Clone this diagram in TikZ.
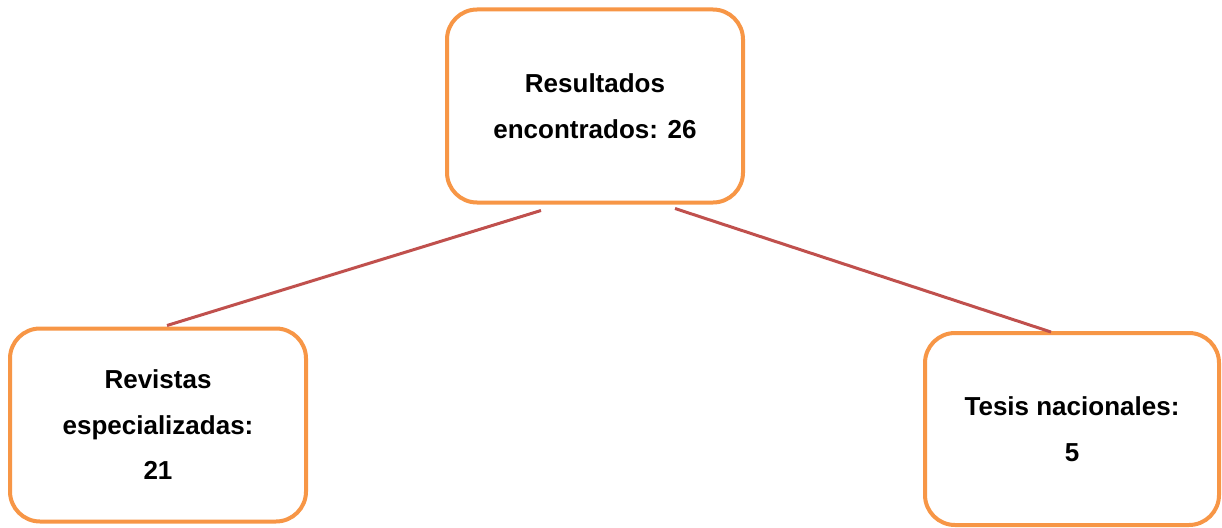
\documentclass[tikz,border=0pt]{standalone}
\usepackage{fontspec}
\setmainfont{Liberation Sans}
\definecolor{boxorange}{HTML}{F79646}
\definecolor{linered}{HTML}{C0504D}
\begin{document}
\begin{tikzpicture}[x=1pt,y=-1pt,
  box/.style={draw=boxorange, line width=4pt, rounded corners=30pt, fill=white,
    minimum width=296pt, minimum height=193pt, outer sep=0pt, inner sep=0pt,
    align=center, font=\bfseries\fontsize{26}{45.5}\selectfont},
  link/.style={draw=linered, line width=3pt}]
\useasboundingbox (0,0) rectangle (1222,527);
\node[box] (top) at (595,106) {Resultados\\encontrados: 26};
\node[box] (left) at (158,425) {Revistas\\especializadas:\\21};
\node[box, minimum width=294pt, minimum height=192pt] (right) at (1072,429) {Tesis nacionales:\\5};
\draw[link] ([xshift=-54pt,yshift=-8pt]top.south) -- ([xshift=9pt,yshift=3pt]left.north);
\draw[link] ([xshift=80pt,yshift=-6pt]top.south) -- ([xshift=-21pt,yshift=1pt]right.north);
\end{tikzpicture}
\end{document}
